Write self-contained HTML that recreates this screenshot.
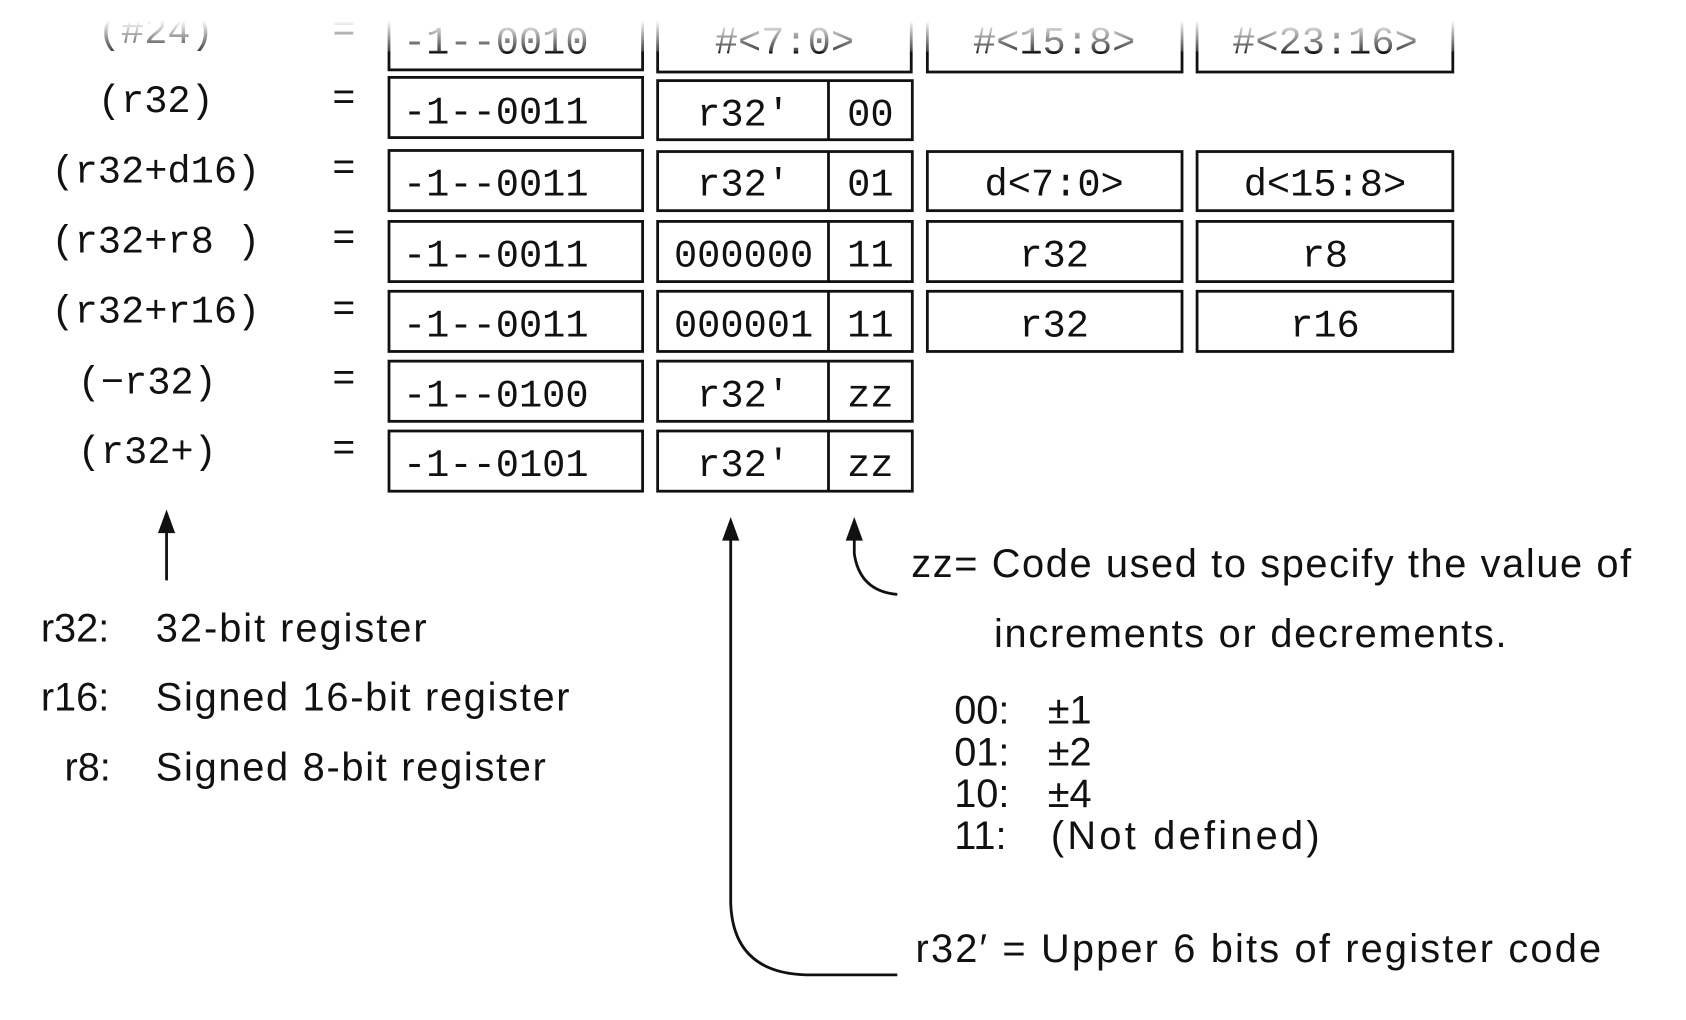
<!DOCTYPE html>
<html><head><meta charset="utf-8"><style>
html,body{margin:0;padding:0;background:#fff;}
svg{display:block;}
.m{font-family:"Liberation Mono",monospace;font-size:36px;fill:#111;}
.s{font-family:"Liberation Sans",sans-serif;font-size:37px;fill:#111;}
</style></head><body>
<svg width="1686" height="1020" viewBox="0 0 1569 949" preserveAspectRatio="none" xmlns="http://www.w3.org/2000/svg">
<defs>
<linearGradient id="fade" x1="0" y1="0" x2="0" y2="1">
<stop offset="0" stop-color="#fff" stop-opacity="1"/>
<stop offset="0.4" stop-color="#fff" stop-opacity="1"/>
<stop offset="1" stop-color="#fff" stop-opacity="0.2"/>
</linearGradient>
</defs>
<g stroke="#111" stroke-width="2.6" fill="none">
<rect x="362" y="5" width="236" height="60"/>
<rect x="612" y="5" width="236" height="62"/>
<rect x="863" y="5" width="237" height="62"/>
<rect x="1114" y="5" width="238" height="62"/>
<rect x="362" y="72" width="236" height="56"/>
<rect x="612" y="75" width="237" height="55"/><line x1="771" y1="75" x2="771" y2="130"/>
<rect x="362" y="140" width="236" height="56"/>
<rect x="612" y="141" width="237" height="55"/><line x1="771" y1="141" x2="771" y2="196"/>
<rect x="863" y="141" width="237" height="55"/>
<rect x="1114" y="141" width="238" height="55"/>
<rect x="362" y="206" width="236" height="56"/>
<rect x="612" y="206" width="237" height="56"/><line x1="771" y1="206" x2="771" y2="262"/>
<rect x="863" y="206" width="237" height="56"/>
<rect x="1114" y="206" width="238" height="56"/>
<rect x="362" y="271" width="236" height="56"/>
<rect x="612" y="271" width="237" height="56"/><line x1="771" y1="271" x2="771" y2="327"/>
<rect x="863" y="271" width="237" height="56"/>
<rect x="1114" y="271" width="238" height="56"/>
<rect x="362" y="336" width="236" height="56"/>
<rect x="612" y="336" width="237" height="56"/><line x1="771" y1="336" x2="771" y2="392"/>
<rect x="362" y="401" width="236" height="56"/>
<rect x="612" y="401" width="237" height="56"/><line x1="771" y1="401" x2="771" y2="457"/>
<line x1="155" y1="540" x2="155" y2="490"/>
<path d="M680 495 L680 840 Q682 905 750 907 L835 907"/>
<path d="M795 495 L795 515 Q800 550 835 553"/>
</g>
<g fill="#111">
<polygon points="155,474 147,496 163,496"/>
<polygon points="680,481 672,503 688,503"/>
<polygon points="795,481 787,503 803,503"/>
</g>
<text class="m" x="375" y="50">-1--0010</text>
<text class="m" x="730" y="50" text-anchor="middle">#&lt;7:0&gt;</text>
<text class="m" x="981" y="50" text-anchor="middle">#&lt;15:8&gt;</text>
<text class="m" x="1233" y="50" text-anchor="middle">#&lt;23:16&gt;</text>
<text class="m" x="145" y="40" text-anchor="middle">(#24)</text>
<text class="m" x="320" y="38" text-anchor="middle">=</text>
<rect x="0" y="0" width="1569" height="48" fill="url(#fade)"/>
<g class="m">
<text x="145" y="104" text-anchor="middle">(r32)</text>
<text x="145" y="170" text-anchor="middle">(r32+d16)</text>
<text x="145" y="235" text-anchor="middle">(r32+r8 )</text>
<text x="145" y="300" text-anchor="middle">(r32+r16)</text>
<text x="137" y="366" text-anchor="middle">(−r32)</text>
<text x="137" y="431" text-anchor="middle">(r32+)</text>
<text x="320" y="102" text-anchor="middle">=</text>
<text x="320" y="167" text-anchor="middle">=</text>
<text x="320" y="232" text-anchor="middle">=</text>
<text x="320" y="298" text-anchor="middle">=</text>
<text x="320" y="363" text-anchor="middle">=</text>
<text x="320" y="428" text-anchor="middle">=</text>
<text x="375" y="115">-1--0011</text>
<text x="375" y="182">-1--0011</text>
<text x="375" y="248">-1--0011</text>
<text x="375" y="313">-1--0011</text>
<text x="375" y="378">-1--0100</text>
<text x="375" y="443">-1--0101</text>
<text x="692" y="117" text-anchor="middle">r32′</text>
<text x="810" y="117" text-anchor="middle">00</text>
<text x="692" y="182" text-anchor="middle">r32′</text>
<text x="810" y="182" text-anchor="middle">01</text>
<text x="692" y="248" text-anchor="middle">000000</text>
<text x="810" y="248" text-anchor="middle">11</text>
<text x="692" y="313" text-anchor="middle">000001</text>
<text x="810" y="313" text-anchor="middle">11</text>
<text x="692" y="378" text-anchor="middle">r32′</text>
<text x="810" y="378" text-anchor="middle">zz</text>
<text x="692" y="443" text-anchor="middle">r32′</text>
<text x="810" y="443" text-anchor="middle">zz</text>
<text x="981" y="182" text-anchor="middle">d&lt;7:0&gt;</text>
<text x="1233" y="182" text-anchor="middle">d&lt;15:8&gt;</text>
<text x="981" y="248" text-anchor="middle">r32</text>
<text x="1233" y="248" text-anchor="middle">r8</text>
<text x="981" y="313" text-anchor="middle">r32</text>
<text x="1233" y="313" text-anchor="middle">r16</text>
</g>
<g class="s">
<text x="38" y="597">r32:</text><text x="145" y="597" textLength="252" lengthAdjust="spacing">32-bit register</text>
<text x="38" y="661">r16:</text><text x="145" y="661" textLength="385" lengthAdjust="spacing">Signed 16-bit register</text>
<text x="60" y="726">r8:</text><text x="145" y="726" textLength="363" lengthAdjust="spacing">Signed 8-bit register</text>
<text x="848" y="537" textLength="670" lengthAdjust="spacing">zz= Code used to specify the value of</text>
<text x="925" y="602" textLength="477" lengthAdjust="spacing">increments or decrements.</text>
<text x="888" y="673">00:</text><text x="975" y="673">±1</text>
<text x="888" y="712">01:</text><text x="975" y="712">±2</text>
<text x="888" y="751">10:</text><text x="975" y="751">±4</text>
<text x="888" y="790">11:</text><text x="978" y="790" textLength="250" lengthAdjust="spacing">(Not defined)</text>
<text x="852" y="895" textLength="638" lengthAdjust="spacing">r32′ = Upper 6 bits of register code</text>
</g>
</svg>
</body></html>
